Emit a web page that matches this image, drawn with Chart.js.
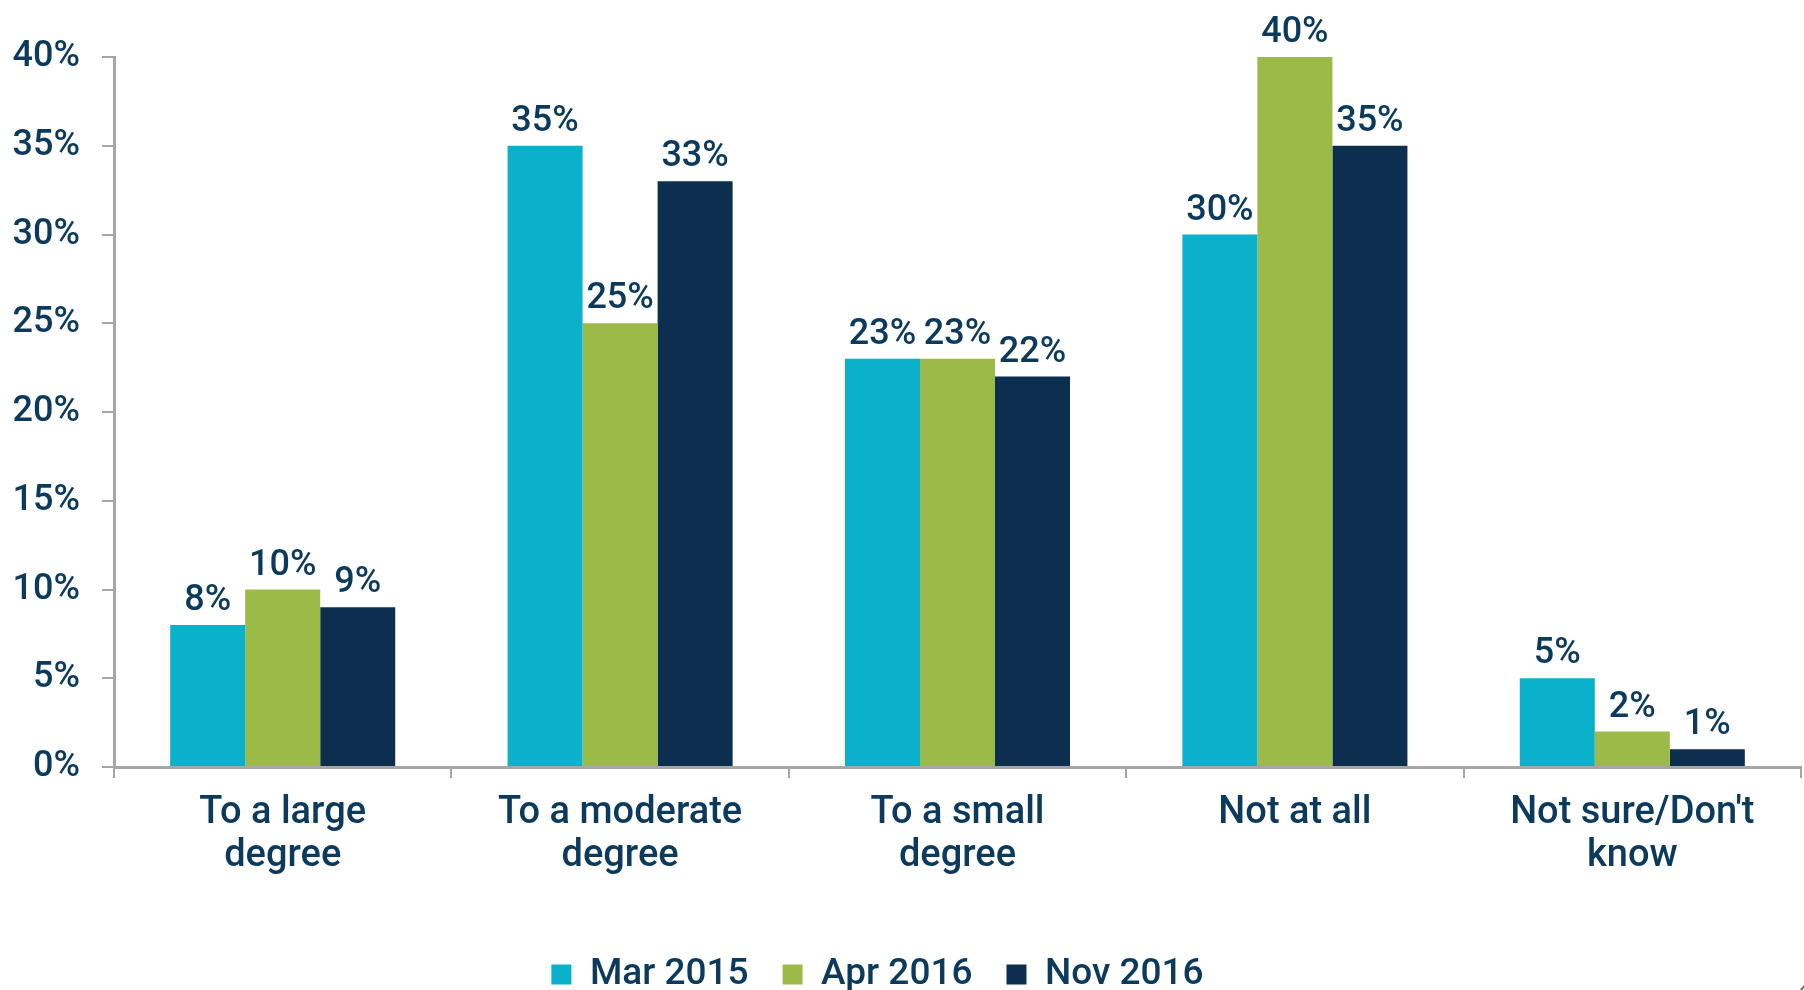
<!DOCTYPE html>
<html>
<head>
<meta charset="utf-8">
<script src="https://cdn.jsdelivr.net/npm/chart.js@4/dist/chart.umd.min.js"></script>
<style>
  body{margin:0;background:#fff;}
  #grafico{display:block;}
</style>
</head>
<body>
<canvas id="grafico" width="1804" height="990"></canvas>
<script>
// dados
const categorias = [['To a large','degree'],['To a moderate','degree'],['To a small','degree'],['Not at all'],["Not sure/Don't",'know']];
const series = ['Mar 2015','Apr 2016','Nov 2016'];
const mar2015 = [8,35,23,30,5];
const apr2016 = [10,25,23,40,2];
const nov2016 = [9,33,22,35,1];
const yTicks = [0,5,10,15,20,25,30,35,40];

const corTexto = '#0b3a5c';
const corEixo = '#a6a6a6';
const cores = ['#0bb1cb','#9bba47','#0c2f50'];
const fonte = 'Roboto, "DejaVu Sans"';

// rótulos em cima das barras
const rotulos = {
  id:'rotulos',
  afterLayout(chart){
    // legenda um pouco à esquerda e mais abaixo, como no original
    const lg = chart.legend;
    lg.left -= 23; lg.right -= 23;
    lg.top += 13; lg.bottom += 13;
  },
  afterDatasetsDraw(chart){
    const ctx = chart.ctx;
    ctx.save();
    ctx.font = '500 36px ' + fonte;
    ctx.fillStyle = corTexto;
    ctx.textAlign = 'center';
    ctx.textBaseline = 'alphabetic';
    chart.data.datasets.forEach((ds,i)=>{
      chart.getDatasetMeta(i).data.forEach((bar,j)=>{
        ctx.fillText(ds.data[j]+'%', bar.x, bar.y-15);
      });
    });
    // número da página (cortado na borda)
    ctx.font = 'italic 26px "DejaVu Sans"';
    ctx.fillStyle = '#666';
    ctx.textAlign = 'left';
    ctx.fillText('4', 1796, 1001);
    ctx.restore();
  }
};

const ctx = document.getElementById('grafico').getContext('2d');
const grafico = new Chart(ctx,{
  type:'bar',
  data:{
    labels:categorias,
    datasets:[
      {label:series[0],data:mar2015,backgroundColor:cores[0]},
      {label:series[1],data:apr2016,backgroundColor:cores[1]},
      {label:series[2],data:nov2016,backgroundColor:cores[2]}
    ]
  },
  options:{
    responsive:false,
    animation:false,
    categoryPercentage:0.667,
    barPercentage:1,
    layout:{padding:{top:57,right:3,left:0,bottom:0}},
    plugins:{
      tooltip:{enabled:false},
      legend:{
        position:'bottom',
        labels:{
          color:corTexto,
          boxWidth:20,boxHeight:20,
          padding:34,
          font:{family:fonte,size:37,weight:'500'}
        }
      }
    },
    scales:{
      x:{
        offset:true,
        grid:{offset:true,drawOnChartArea:false,drawTicks:true,tickLength:11,color:corEixo,lineWidth:2},
        border:{display:true,color:corEixo,width:3},
        ticks:{color:corTexto,padding:14,font:{family:fonte,size:38,weight:'500',lineHeight:1.13},maxRotation:0,autoSkip:false},
        afterFit(scale){ scale.height = 142; }
      },
      y:{
        min:0,max:40,
        afterBuildTicks(scale){ scale.ticks = yTicks.map(v=>({value:v})); },
        grid:{drawOnChartArea:false,drawTicks:true,tickLength:12,color:corEixo,lineWidth:2},
        border:{display:true,color:corEixo,width:3},
        ticks:{color:corTexto,padding:22,font:{family:fonte,size:36,weight:'500'},callback:v=>v+'%'},
        afterFit(scale){ scale.width = 114; }
      }
    }
  },
  plugins:[rotulos]
});
</script>
</body>
</html>
